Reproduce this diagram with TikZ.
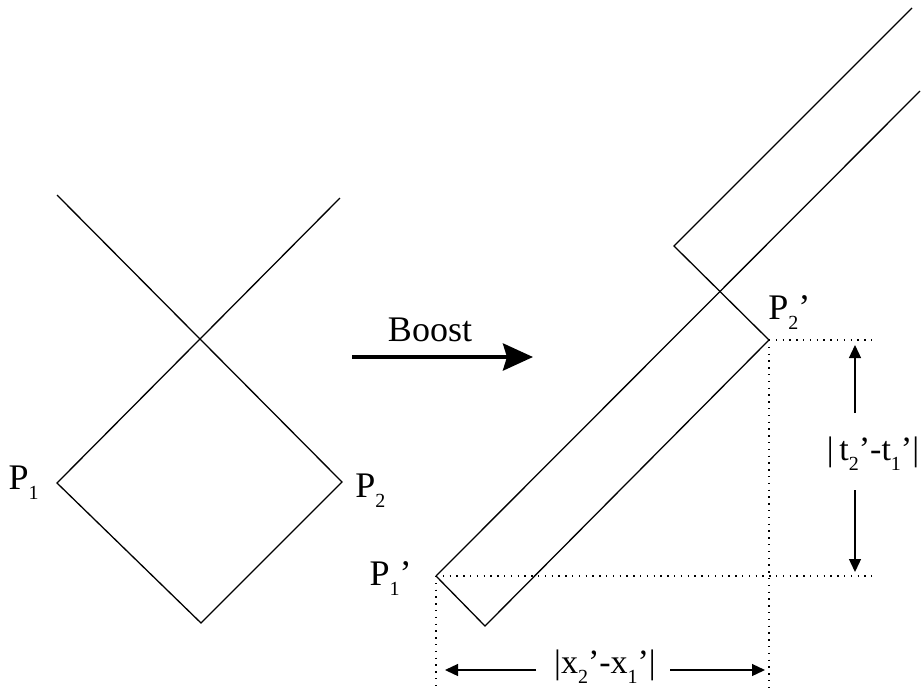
\documentclass[tikz,border=0pt]{standalone}
\usepackage{fontspec}
\setmainfont{Liberation Serif}
\usetikzlibrary{positioning,arrows.meta}

\newcommand{\lsub}[1]{\raisebox{-5pt}{\fontsize{10}{10}\selectfont #1}}

\begin{document}
\begin{tikzpicture}[
  x=0.5pt, y=-0.5pt,
  font=\fontsize{17}{20}\selectfont,
  >={Triangle[length=6.5pt, width=6pt]},
  cone/.style={line width=0.65pt, line join=miter},
  guide/.style={line width=0.65pt, dash pattern=on 0.7pt off 2.7pt},
  dim/.style={->, line width=0.65pt},
  boost/.style={-{Stealth[length=15pt, width=13.5pt, inset=2pt]}, line width=2pt},
  lbl/.style={inner sep=0pt},
  big/.style={lbl, font=\fontsize{18}{21}\selectfont},
]
\useasboundingbox (0,0) rectangle (922,687);

% ---- rest frame: light cones through P1 and P2 ----
\coordinate (p1) at (57,483);
\coordinate (p2) at (342,482);
\coordinate (pb) at (201,623);
\coordinate (ul) at (57,195);
\coordinate (ur) at (340,198);
\draw[cone] (ul) -- (p2) -- (pb) -- (p1) -- (ur);
\node[big, left=9pt of p1] (p1lab) {P\lsub{1}};
\node[big, right=6.5pt of p2, yshift=-4.5pt] (p2lab) {P\lsub{2}};

% ---- boost arrow ----
\node[big] (boostlab) at (430,330) {Boost};
\coordinate (bs) at (352,357);
\coordinate (be) at (533,357);
\draw[boost] (bs) -- (be);

% ---- boosted frame ----
\coordinate (q1) at (436,576);
\coordinate (qb) at (485,626);
\coordinate (q2) at (769,340);
\coordinate (qk) at (674,246);
\coordinate (qt) at (912,8);
\coordinate (qr) at (920,91);
\draw[cone] (q1) -- (qb) -- (q2) -- (qk) -- (qt);
\draw[cone] (q1) -- (qr);
\node[big, left=12pt of q1, yshift=-1.5pt] (q1lab) {P\lsub{1}'};
\node[big, above right=5pt and -0.5pt of q2] (q2lab) {P\lsub{2}'};

% ---- dotted guides ----
\coordinate (g2) at (872,340);
\coordinate (g1) at (872,576);
\coordinate (h2) at (769,687);
\coordinate (h1) at (436,687);
\draw[guide] (q2) -- (g2);
\draw[guide] (q1) -- (g1);
\draw[guide] (q2) -- (h2);
\draw[guide] (q1) -- (h1);

% ---- intervals ----
\node[lbl, anchor=base] (tlab) at (873,460) {|\,t\lsub{2}'-t\lsub{1}'|};
\coordinate (ta) at (855,413);
\coordinate (tb) at (855,345);
\coordinate (tc) at (855,490);
\coordinate (td) at (855,572);
\draw[dim] (ta) -- (tb);
\draw[dim] (tc) -- (td);

\node[lbl, anchor=base] (xlab) at (605,673) {|x\lsub{2}'-x\lsub{1}'|};
\coordinate (xa) at (536,670);
\coordinate (xb) at (445,670);
\coordinate (xc) at (670,670);
\coordinate (xd) at (765,670);
\draw[dim] (xa) -- (xb);
\draw[dim] (xc) -- (xd);

\end{tikzpicture}
\end{document}
